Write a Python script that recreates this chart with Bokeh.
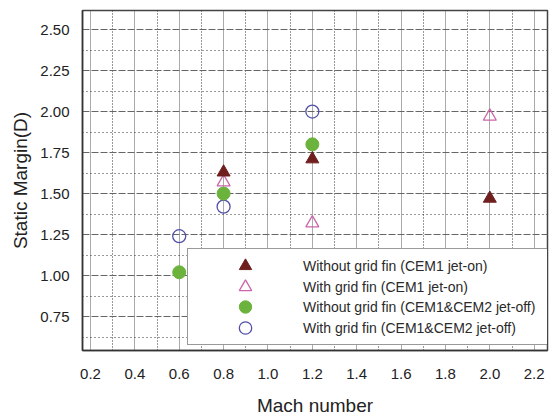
from bokeh.plotting import figure
from bokeh.models import (FixedTicker, Range1d, Legend, LegendItem)
from bokeh.embed import file_html
from bokeh.resources import INLINE

# ---- data ----
mach_cem1_nofin = [0.8, 1.2, 2.0]
sm_cem1_nofin = [1.63, 1.71, 1.47]

mach_cem1_fin = [0.8, 1.2, 2.0]
sm_cem1_fin = [1.57, 1.32, 1.97]

mach_off_nofin = [0.6, 0.8, 1.2]
sm_off_nofin = [1.02, 1.50, 1.80]

mach_off_fin = [0.6, 0.8, 1.2]
sm_off_fin = [1.24, 1.42, 2.00]

labels = [
    "Without grid fin (CEM1 jet-on)",
    "With grid fin (CEM1 jet-on)",
    "Without grid fin (CEM1&CEM2 jet-off)",
    "With grid fin (CEM1&CEM2 jet-off)",
]

x_ticks = [0.2, 0.4, 0.6, 0.8, 1.0, 1.2, 1.4, 1.6, 1.8, 2.0, 2.2]
x_minor = [0.3, 0.5, 0.7, 0.9, 1.1, 1.3, 1.5, 1.7, 1.9, 2.1]
y_ticks = [0.75, 1.00, 1.25, 1.50, 1.75, 2.00, 2.25, 2.50]
y_minor = [0.625, 0.875, 1.125, 1.375, 1.625, 1.875, 2.125, 2.375]

FONT = "Liberation Sans"

p = figure(width=560, height=419, output_backend="svg", toolbar_location=None,
           x_range=Range1d(0.164, 2.26), y_range=Range1d(0.543, 2.616),
           min_border_left=82, min_border_right=13, min_border_top=10,
           min_border_bottom=69, background_fill_color="white",
           border_fill_color="white")

p.outline_line_color = "#444444"
p.outline_line_width = 1.5

# axes
p.xaxis.ticker = FixedTicker(ticks=x_ticks, minor_ticks=x_minor)
p.yaxis.ticker = FixedTicker(ticks=y_ticks, minor_ticks=y_minor)
p.xaxis.major_label_overrides = {v: f"{v:.1f}" for v in x_ticks}
p.yaxis.major_label_overrides = {v: f"{v:.2f}" for v in y_ticks}
for ax in (p.xaxis, p.yaxis):
    ax.major_tick_out = 0
    ax.major_tick_in = 0
    ax.minor_tick_out = 0
    ax.minor_tick_in = 0
    ax.axis_line_color = "#333333"
    ax.axis_line_width = 1.5
    ax.major_label_text_font = FONT
    ax.major_label_text_font_size = "15px"
    ax.major_label_text_color = "#222222"
    ax.axis_label_text_font = FONT
    ax.axis_label_text_font_style = "normal"
    ax.axis_label_text_color = "#222222"

p.xaxis.axis_label = "Mach number"
p.xaxis.axis_label_text_font_size = "19px"
p.xaxis.major_label_standoff = 18
p.xaxis.axis_label_standoff = 13

p.yaxis.axis_label = "Static Margin(D)"
p.yaxis.axis_label_text_font_size = "19px"
p.yaxis.major_label_standoff = 13
p.yaxis.axis_label_standoff = 6

# grids
p.xgrid.ticker = FixedTicker(ticks=x_ticks, minor_ticks=x_minor)
p.ygrid.ticker = FixedTicker(ticks=y_ticks, minor_ticks=y_minor)
p.xgrid.grid_line_color = "#555555"
p.xgrid.grid_line_dash = "1 1"
p.xgrid.grid_line_width = 1
p.xgrid.minor_grid_line_color = "#333333"
p.xgrid.minor_grid_line_dash = "1 2"
p.ygrid.grid_line_color = "#666666"
p.ygrid.grid_line_dash = "7 2"
p.ygrid.grid_line_width = 1
p.ygrid.minor_grid_line_color = "#333333"
p.ygrid.minor_grid_line_dash = "1 3"

# series
r_off_fin = p.scatter(mach_off_fin, sm_off_fin, marker="circle", size=13,
                      fill_color=None, line_color="#5050a8", line_width=1.3)
r_off_nofin = p.scatter(mach_off_nofin, sm_off_nofin, marker="circle", size=13,
                        fill_color="#6cb33e", line_color="#6cb33e", line_width=1)
r_fin = p.scatter(mach_cem1_fin, sm_cem1_fin, marker="triangle", size=13,
                  fill_color=None, line_color="#cc66aa", line_width=1.3)
r_nofin = p.scatter(mach_cem1_nofin, sm_cem1_nofin, marker="triangle", size=13,
                    fill_color="#701f1f", line_color="#701f1f", line_width=1)

# invisible renderer used only to draw the legend frame
r_box = p.scatter([], [], marker="square", size=1, fill_alpha=0, line_alpha=0)

legend_box = Legend(items=[LegendItem(label=" ", renderers=[r_box])],
                    location=(105, 5), glyph_width=360, glyph_height=95,
                    label_width=0, label_height=0, label_standoff=0,
                    label_text_font_size="1px",
                    padding=0, margin=0, border_line_color="#333333",
                    border_line_width=1.5, background_fill_color="white",
                    background_fill_alpha=1.0)
p.add_layout(legend_box)

common = dict(glyph_width=116, glyph_height=31, spacing=10, padding=0, margin=0,
              label_standoff=0, label_height=20, label_text_font=FONT,
              label_text_font_size="14px", label_text_color="#2a2a2a",
              border_line_color=None, background_fill_alpha=0.0)

legend_a = Legend(items=[
    LegendItem(label=labels[0], renderers=[r_nofin]),
    LegendItem(label=labels[2], renderers=[r_off_nofin]),
], location=(105, 28), **common)
legend_b = Legend(items=[
    LegendItem(label=labels[1], renderers=[r_fin]),
    LegendItem(label=labels[3], renderers=[r_off_fin]),
], location=(105, 7), **common)
p.add_layout(legend_a)
p.add_layout(legend_b)

open("out.html", "w").write(file_html(p, INLINE))
